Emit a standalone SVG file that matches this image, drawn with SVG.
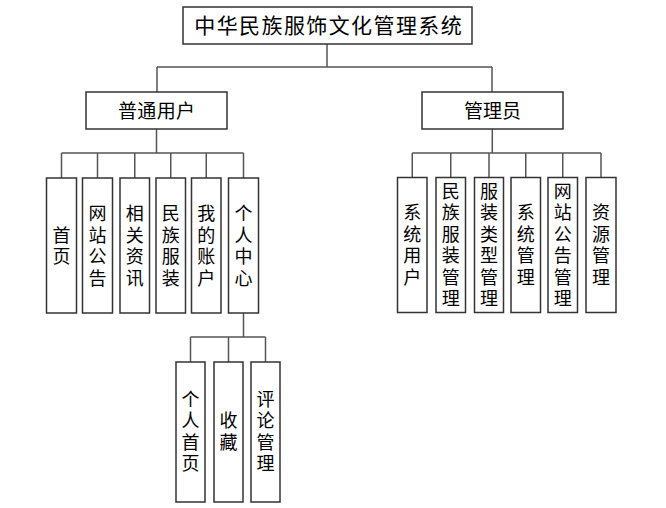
<svg xmlns="http://www.w3.org/2000/svg" width="666" height="508" viewBox="0 0 666 508">
<style>
.box{fill:#fff;stroke:#333;stroke-width:1.5}
.ln{fill:none;stroke:#555;stroke-width:1.5}
text{font-family:"Noto Sans CJK SC","Noto Sans CJK JP",sans-serif;fill:#000;text-anchor:middle}
.v{font-size:18px;writing-mode:vertical-rl;text-orientation:upright;letter-spacing:3.5px}
</style>
<rect width="666" height="508" fill="#fff"/>
<g id="connectors">
<path class="ln" d="M327,44V67M157,67H492M157,67V92M492,67V92"/>
<path class="ln" d="M156.5,129V153M61.5,153H243.5M61.5,153V178M97.5,153V178M134.75,153V178M170.75,153V178M206.25,153V178M243.5,153V178"/>
<path class="ln" d="M492.3,129V153M412.25,153H601M412.25,153V177.5M450.75,153V177.5M489,153V177.5M525.75,153V177.5M562.75,153V177.5M601,153V177.5"/>
<path class="ln" d="M243.5,313V337M190.5,337H265.5M190.5,337V362M228.5,337V362M265.5,337V362"/>
</g>
<g id="root"><rect class="box" x="183" y="7" width="289" height="37"/><text x="328.7" y="33" font-size="21" letter-spacing="1.4">中华民族服饰文化管理系统</text></g>
<g id="user"><rect class="box" x="86" y="92" width="141" height="37"/><text x="156.7" y="117.7" font-size="19" letter-spacing="0.4">普通用户</text></g>
<g id="admin"><rect class="box" x="422" y="92" width="141" height="37"/><text x="492.5" y="117.7" font-size="19">管理员</text></g>

<g id="n-home"><rect class="box" x="46.5" y="178" width="30" height="135"/><text class="v" x="61.5" y="247.25">首页</text></g>
<g id="n-notice"><rect class="box" x="82.5" y="178" width="30" height="135"/><text class="v" x="97.5" y="247.25">网站公告</text></g>
<g id="n-news"><rect class="box" x="120" y="178" width="29.5" height="135"/><text class="v" x="134.75" y="247.25">相关资讯</text></g>
<g id="n-costume"><rect class="box" x="156" y="178" width="29.5" height="135"/><text class="v" x="170.75" y="247.25">民族服装</text></g>
<g id="n-account"><rect class="box" x="191.5" y="178" width="29.5" height="135"/><text class="v" x="206.25" y="247.25">我的账户</text></g>
<g id="n-center"><rect class="box" x="228.5" y="178" width="30" height="135"/><text class="v" x="243.5" y="247.25">个人中心</text></g>

<g id="n-sysuser"><rect class="box" x="397.5" y="177.5" width="29.5" height="135"/><text class="v" x="412.25" y="246.25">系统用户</text></g>
<g id="n-costmgr"><rect class="box" x="436" y="177.5" width="29.5" height="135"/><text class="v" x="450.75" y="246.25">民族服装管理</text></g>
<g id="n-typemgr"><rect class="box" x="474.5" y="177.5" width="29" height="135"/><text class="v" x="489" y="246.25">服装类型管理</text></g>
<g id="n-sysmgr"><rect class="box" x="511" y="177.5" width="29.5" height="135"/><text class="v" x="525.75" y="246.25">系统管理</text></g>
<g id="n-noticemgr"><rect class="box" x="548" y="177.5" width="29.5" height="135"/><text class="v" x="562.75" y="246.25">网站公告管理</text></g>
<g id="n-resmgr"><rect class="box" x="586" y="177.5" width="30" height="135"/><text class="v" x="601" y="246.25">资源管理</text></g>

<g id="n-profile"><rect class="box" x="176" y="362" width="29" height="140"/><text class="v" x="190.5" y="432.75">个人首页</text></g>
<g id="n-fav"><rect class="box" x="214" y="362" width="29" height="140"/><text class="v" x="228.5" y="432.75">收藏</text></g>
<g id="n-comment"><rect class="box" x="251" y="362" width="29" height="140"/><text class="v" x="265.5" y="432.75">评论管理</text></g>
</svg>
